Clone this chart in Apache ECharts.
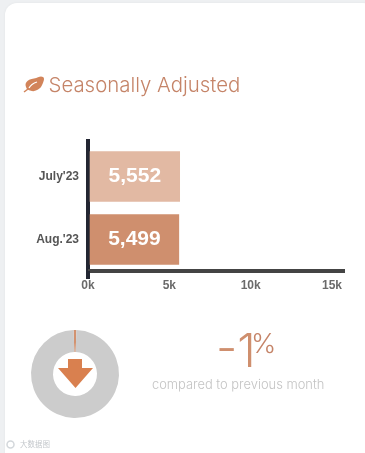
<!DOCTYPE html>
<html><head><meta charset="utf-8">
<script src="https://cdn.jsdelivr.net/npm/echarts@6/dist/echarts.min.js"></script>
<style>html,body{margin:0;padding:0;background:#eef0f2;overflow:hidden}
#card{position:absolute;left:5px;top:3px;width:370px;height:470px;background:#fff;border-radius:12px;box-shadow:0 0 3px rgba(0,0,0,.05)}
#c{position:absolute;left:0;top:0;width:365px;height:453px}</style></head>
<body><div id="card"></div><div id="c"></div>
<script>
const categories = ["July'23", "Aug.'23"];
const values = [5552, 5499];
const barColors = ['#e2b9a3', '#cf8f6e'];
const valueLabels = ['5,552', '5,499'];
const xTicks = [0, 5000, 10000, 15000];
const changeShare = [1, 99];
const titleText = 'Seasonally Adjusted';
const changeText = '-1';
const changeUnit = '%';
const captionText = 'compared to previous month';
const watermarkText = '大数据图';

const chart = echarts.init(document.getElementById('c'), null, {renderer:'canvas'});
const xMax = 15800;
const tickFmt = v => xTicks.includes(v) ? (v/1000)+'k' : '';
chart.setOption({
  animation:false,
  backgroundColor:'transparent',
  grid:[
    {left:88, width:257, top:139, height:132},
    {left:89.7, width:257, top:145, height:126}
  ],
  xAxis:[
    {gridIndex:0, type:'value', min:0, max:xMax, interval:5000,
     axisLine:{show:true, lineStyle:{color:'#444444', width:4, cap:'butt'}},
     axisTick:{show:true, customValues:[0], length:8, lineStyle:{color:'#232632', width:4, cap:'butt'}},
     splitLine:{show:true, showMinLine:false, showMaxLine:false, lineStyle:{color:'#e9e9e9', width:1}},
     axisLabel:{formatter:tickFmt, color:'#6a6a6a', fontFamily:'Liberation Sans', fontWeight:'bold', fontSize:12, margin:9, showMaxLabel:false}},
    {gridIndex:1, type:'value', min:0, max:xMax, show:false}
  ],
  yAxis:[
    {gridIndex:0, type:'value', min:0, max:1, show:true,
     axisLine:{show:true, onZero:false, lineStyle:{color:'#232632', width:4, cap:'butt'}},
     axisTick:{show:false}, axisLabel:{show:false}, splitLine:{show:false}},
    {gridIndex:1, type:'category', inverse:true, data:categories,
     axisLine:{show:false}, axisTick:{show:false},
     axisLabel:{color:'#555', fontFamily:'Liberation Sans', fontWeight:'bold', fontSize:12, margin:10.7}}
  ],
  series:[
    {type:'bar', xAxisIndex:1, yAxisIndex:1, barWidth:'80%', z:3,
     data:values.map((v,i)=>({value:v, itemStyle:{color:barColors[i]}})),
     label:{show:true, position:'inside', color:'#fff', fontFamily:'Liberation Sans', fontWeight:'bold', fontSize:21,
       formatter:p=>valueLabels[p.dataIndex]}},
    {type:'pie', center:[75,374], radius:[22,44], startAngle:90+1.8, silent:true, label:{show:false}, labelLine:{show:false},
     data:[{value:changeShare[0], itemStyle:{color:'#d2926f'}},{value:changeShare[1], itemStyle:{color:'#cccccc'}}]}
  ],
  graphic:[
    {type:'polygon', shape:{smooth:0.5, points:[[43,77],[42.5,84],[37,90],[30,90.5],[26,87],[27,81.5],[34,78.5]]}, style:{fill:'#d2845a'}},
    {type:'polyline', shape:{points:[[24,92],[28,89]]}, style:{stroke:'#d2845a', fill:'none', lineWidth:1.5}},
    {type:'polyline', shape:{smooth:0.5, points:[[29,88],[32,84.5],[37,82]]}, style:{stroke:'#fff', fill:'none', lineWidth:1.2}},
    {type:'text', left:48.5, top:76, style:{text:titleText, fontFamily:'Inter', fontWeight:300, fontSize:20.4, fill:'#c58468'}},
    {type:'polygon', shape:{points:[[68,359],[82,359],[82,368],[93,368],[75.5,388],[58,368],[68,368]]}, style:{fill:'#d9804f'}, z:10},
    {type:'text', x:216, y:329, style:{text:changeText, fontFamily:'Inter', fontWeight:300, fontSize:47, fill:'#cf8f6e'}},
    {type:'text', x:251, y:331, style:{text:changeUnit, fontFamily:'Inter', fontWeight:300, fontSize:27, fill:'#c58468'}},
    {type:'text', x:152, y:379, style:{text:captionText, fontFamily:'Inter', fontWeight:300, fontSize:12.9, fill:'#c4c4c4'}},
    {type:'circle', shape:{cx:10.5, cy:444.5, r:3.5}, style:{fill:'none', stroke:'#d3d7db', lineWidth:1.5}},
    {type:'text', x:20, y:440, style:{text:watermarkText, fontFamily:'Noto Sans CJK SC', fontSize:7.5, fill:'#c4c8cc'}}
  ]
});
</script></body></html>
